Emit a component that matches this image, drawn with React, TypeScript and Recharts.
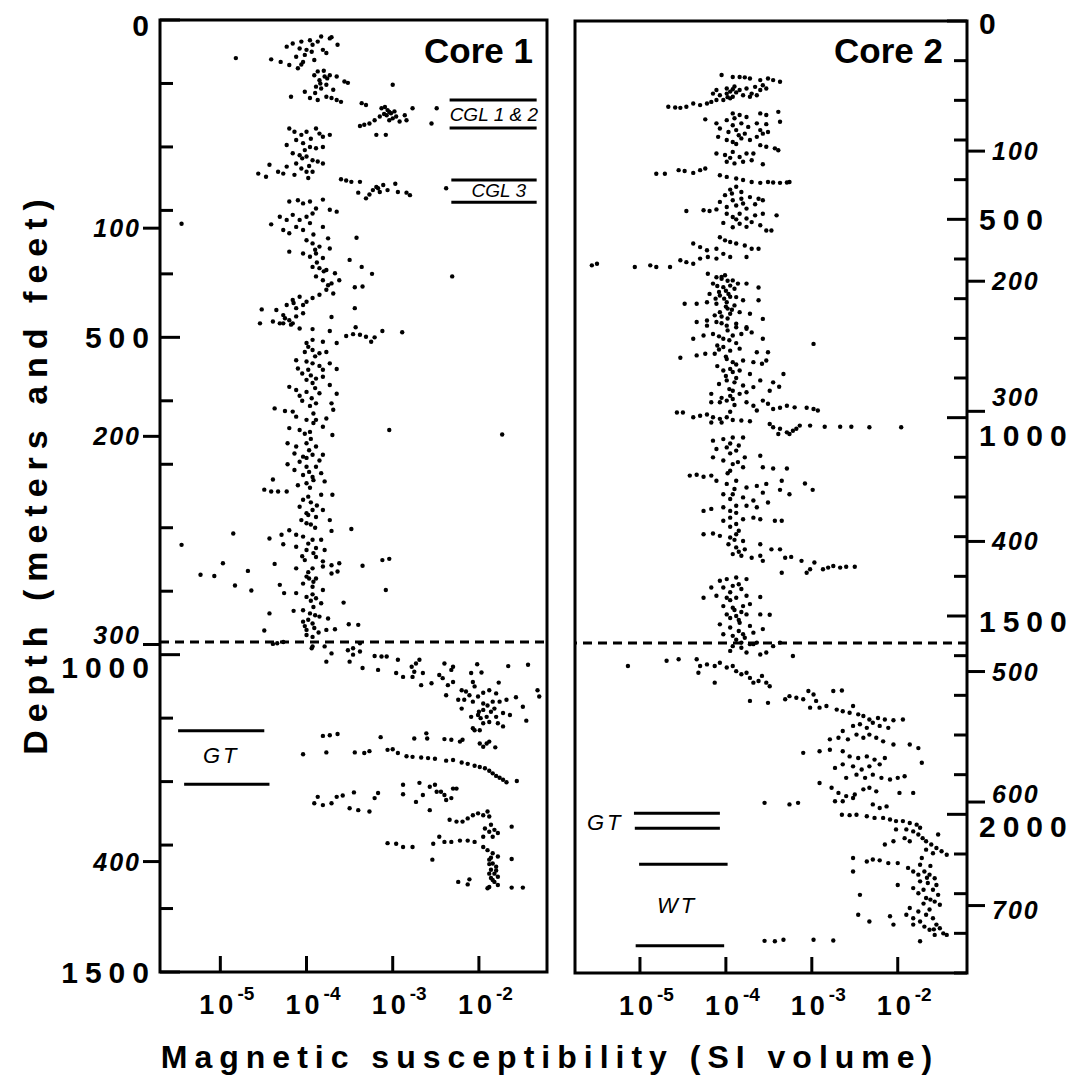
import React from 'react';
import { ScatterChart, Scatter, XAxis, YAxis, ReferenceLine, ReferenceArea } from 'recharts';

// depth (ft), log10 of magnetic susceptibility (SI volume)
const core1Upper: [number, number][] = [
  [60,-4.82],[62,-4.41],[66,-4.30],[42,-4.23],[71,-4.20],[37,-4.16],[58,-4.12],[76,-4.10],[34,-4.06],[66,-4.04],
  [47,-4.00],[32,-3.96],[39,-3.93],[63,-3.91],[34,-3.87],[26,-3.83],[47,-3.81],[52,-3.77],[29,-3.73],[27,-3.71],
  [39,-3.64],[81,-3.87],[87,-3.91],[95,-3.85],[89,-3.79],[87,-3.73],[89,-3.65],[105,-3.89],[108,-3.83],[102,-3.77],
  [110,-3.69],[113,-4.02],[121,-4.18],[123,-3.96],[126,-3.87],[121,-3.77],[123,-3.71],[126,-3.65],[129,-3.60],[97,-3.56],
  [99,-3.52],[102,-3.00],[45,-4.08],[55,-4.02],[50,-3.94],[70,-4.06],[80,-3.80],[100,-3.84],[115,-3.90],[92,-3.76],
  [131,-3.36],[134,-3.31],[167,-3.38],[165,-3.33],[163,-3.27],[158,-3.21],[152,-3.15],[139,-3.13],[137,-3.09],[142,-3.06],
  [147,-3.02],[144,-2.98],[152,-2.96],[150,-3.07],[158,-3.04],[160,-2.92],[150,-2.86],[158,-2.84],[139,-2.77],[181,-3.19],
  [181,-3.08],[163,-2.55],[139,-2.49],[145,-3.04],[148,-3.10],[155,-3.00],
  [171,-4.20],[176,-4.14],[181,-4.06],[176,-4.00],[171,-3.89],[179,-3.85],[184,-3.81],[181,-3.73],[197,-4.23],[189,-4.12],
  [194,-4.04],[200,-3.96],[202,-3.89],[200,-3.81],[210,-4.16],[213,-4.08],[215,-4.00],[221,-3.93],[223,-3.87],[226,-3.81],
  [231,-4.23],[226,-4.12],[234,-4.06],[239,-4.00],[239,-3.93],[239,-4.33],[228,-4.43],[242,-4.56],[247,-4.47],[242,-4.27],
  [244,-4.14],[249,-3.98],[205,-4.02],[218,-4.05],[187,-3.95],[230,-3.97],
  [251,-3.60],[253,-3.54],[255,-3.48],[255,-3.38],[272,-3.40],[281,-3.31],[268,-3.23],[263,-3.19],[271,-3.15],[260,-3.11],
  [268,-3.06],[258,-2.97],[271,-2.94],[272,-2.84],[276,-2.80],[265,-2.38],[265,-3.17],[275,-3.27],
  [286,-4.20],[284,-4.10],[289,-4.04],[286,-3.96],[283,-3.81],[297,-3.89],[299,-3.73],[302,-3.65],[310,-4.31],[315,-4.23],
  [307,-4.16],[315,-4.08],[310,-4.00],[305,-3.93],[322,-4.41],[331,-4.27],[336,-4.20],[326,-4.12],[331,-4.04],[320,-3.96],
  [326,-3.81],[321,-5.45],[343,-3.42],[347,-4.00],[352,-3.93],[357,-3.85],[344,-3.75],[368,-4.04],[373,-3.96],[368,-3.89],
  [375,-3.81],[360,-3.73],[378,-3.50],[365,-4.20],[389,-3.93],[391,-3.85],[394,-3.77],[399,-3.67],[389,-3.36],[400,-3.24],
  [404,-3.89],[410,-3.81],[415,-3.71],[410,-3.62],[421,-3.44],[420,-3.35],[404,-2.31],[425,-3.77],[431,-3.69],[433,-3.85],
  [438,-3.93],[444,-4.00],[436,-4.08],[441,-4.16],[449,-4.23],[454,-4.12],[449,-4.04],[457,-4.35],[456,-4.52],[465,-4.27],
  [473,-4.20],[467,-4.12],[462,-4.04],[468,-3.71],[454,-3.44],[475,-4.39],[478,-4.31],[478,-4.54],[480,-4.18],
  [338,-3.92],[362,-3.90],[382,-3.88],[396,-3.80],[418,-3.75],[446,-4.15],[470,-4.25],
];

const core1Middle: [number, number][] = [
  [478,-4.27],[478,-4.16],[486,-4.08],[487,-3.93],[490,-3.73],[498,-3.54],[495,-3.46],[496,-3.38],[499,-3.31],[507,-3.25],
  [500,-3.21],[490,-3.12],[492,-2.89],[484,-3.43],
  [509,-4.00],[504,-3.93],[507,-3.81],[509,-3.65],[523,-4.02],[520,-3.93],[525,-3.85],[523,-3.77],[536,-4.12],[538,-4.00],
  [541,-3.93],[541,-3.73],[549,-4.10],[551,-3.98],[551,-3.81],[550,-3.65],[567,-4.00],[565,-3.89],[562,-3.81],[572,-3.93],
  [575,-3.73],[578,-4.20],[583,-4.12],[586,-4.00],[588,-3.85],[589,-3.65],[596,-3.94],[604,-3.89],[604,-3.71],[612,-4.37],
  [616,-4.25],[617,-4.16],[625,-4.12],[630,-4.00],[630,-3.89],[628,-3.77],[614,-3.69],[643,-4.20],[646,-4.08],[649,-3.96],
  [641,-3.81],[654,-3.70],[646,-3.04],[653,-1.73],[667,-4.22],[672,-4.12],[667,-4.00],[672,-3.89],[683,-4.14],[688,-4.04],
  [685,-3.93],[685,-3.81],[700,-4.22],[696,-4.08],[704,-4.00],[704,-3.89],[709,-4.14],[717,-4.04],[720,-3.93],[714,-3.83],
  [724,-4.39],[733,-4.10],[730,-4.00],[727,-3.79],[740,-4.49],[743,-4.41],[743,-4.33],[743,-4.23],[756,-4.04],[751,-3.98],
  [748,-3.83],[748,-3.70],[767,-4.08],[772,-3.93],[772,-3.81],[777,-4.00],[788,-4.06],[783,-3.89],[788,-3.73],[805,-3.71],
  [802,-3.48],[793,-4.00],[804,-4.20],[811,-4.12],[814,-4.04],[819,-3.93],[819,-3.83],[809,-4.85],[817,-4.43],[811,-4.29],
  [826,-4.27],[827,-5.45],[830,-4.12],[835,-4.00],[832,-3.89],[835,-3.79],[851,-4.02],[846,-3.89],[853,-3.81],[859,-3.71],
  [856,-3.62],[856,-4.97],[868,-4.68],[857,-4.37],[864,-4.12],[864,-3.93],[861,-3.81],[860,-3.35],[851,-3.12],[849,-3.04],
  [874,-5.23],[876,-5.07],[877,-4.00],[880,-3.89],[872,-3.71],[869,-3.64],[891,-4.83],[899,-4.64],[890,-4.31],[888,-4.04],
  [893,-3.93],[898,-3.81],[898,-3.08],[903,-4.26],[903,-4.12],[909,-4.00],[911,-3.89],[919,-3.83],[918,-3.57],[935,-4.43],
  [931,-4.15],[930,-4.04],[935,-3.96],[940,-3.85],[943,-3.75],[948,-4.04],[951,-3.93],[962,-4.49],[961,-4.00],[958,-3.91],
  [961,-3.77],[960,-3.67],[952,-3.51],[953,-3.40],[969,-4.00],[972,-3.93],[982,-4.34],[980,-4.27],[990,-3.94],[987,-3.79],
  [990,-3.46],[982,-3.38],
  [560,-3.95],[600,-4.05],[620,-3.92],[660,-3.95],[690,-4.00],[712,-3.97],[760,-3.95],[780,-3.98],[800,-3.90],[825,-3.98],
  [845,-4.05],[870,-3.98],[885,-3.92],[915,-3.95],[925,-3.92],[945,-3.98],[955,-4.02],
  [515,-3.98],[530,-3.90],[545,-3.85],[557,-4.05],[580,-3.90],[592,-4.08],[608,-3.96],[635,-3.92],[652,-4.02],[678,-3.97],
  [694,-3.85],[725,-3.92],[737,-3.96],[765,-3.88],[795,-3.95],[840,-3.92],[880,-3.97],[905,-3.93],[938,-3.90],[965,-3.86],
];

const core1Lower: [number, number][] = [
  [983,-4.39],[987,-3.93],[998,-3.71],[1011,-3.77],[993,-3.52],[1000,-3.46],[995,-3.38],[1011,-3.50],[1021,-3.35],[1002,-3.21],
  [1003,-3.13],[1003,-3.07],[1024,-3.17],[1008,-2.94],[1029,-2.96],[1035,-2.88],[1019,-2.78],[1027,-2.75],[1014,-2.73],[1035,-2.77],
  [1008,-2.69],[1029,-2.65],[1048,-2.67],[1045,-2.55],[1032,-2.46],[1014,-2.40],[1024,-2.32],[1019,-2.30],[1037,-2.42],[1048,-2.36],
  [1043,-2.30],[1064,-2.38],[1056,-2.20],[1058,-2.15],[1029,-2.09],[1043,-2.07],[1015,-2.02],[1028,-1.97],[1071,-2.24],[1071,-2.17],
  [1085,-2.20],[1064,-2.11],[1074,-2.07],[1066,-2.01],[1077,-1.95],[1056,-1.88],[1061,-1.80],[1044,-1.77],[1074,-1.84],[1074,-1.76],
  [1071,-1.68],[1067,-1.57],[1082,-1.49],[1018,-1.66],[1016,-1.43],[1056,-1.32],[1066,-1.30],[1098,-2.09],[1095,-2.01],[1087,-1.95],
  [1098,-1.91],[1090,-1.86],[1098,-1.80],[1092,-1.72],[1095,-1.64],[1108,-1.95],[1106,-1.88],[1108,-1.78],[1113,-1.72],[1116,-2.07],
  [1119,-1.99],[1104,-1.45],[1140,-1.99],[1140,-1.91],[1137,-1.88],[1146,-1.81],[1145,-1.95],[1119,-2.05],
  [1080,-1.90],[1085,-1.82],[1100,-1.98],[1060,-1.95],[1050,-2.05],[1090,-2.00],
  [1128,-3.81],[1127,-3.73],[1125,-3.64],[1130,-3.14],[1132,-2.75],[1124,-2.61],[1132,-2.60],[1133,-2.40],[1134,-2.32],[1137,-2.22],
  [1134,-2.19],[1157,-4.04],[1154,-3.77],[1154,-3.44],[1155,-3.33],[1152,-3.27],[1150,-3.06],[1149,-3.00],[1155,-2.94],[1160,-2.84],
  [1161,-2.77],[1162,-2.67],[1163,-2.59],[1164,-2.51],[1167,-2.38],[1166,-2.30],[1170,-2.20],[1172,-2.13],[1175,-2.05],[1177,-1.99],
  [1179,-1.93],[1183,-1.88],[1187,-1.84],[1191,-1.80],[1194,-1.76],[1197,-1.72],[1201,-1.68],[1199,-1.56],
  [1224,-3.87],[1234,-3.91],[1237,-3.81],[1234,-3.71],[1224,-3.65],[1222,-3.58],[1242,-3.50],[1217,-3.45],[1245,-3.40],[1247,-3.27],
  [1226,-3.21],[1218,-3.17],[1205,-2.88],[1220,-2.88],[1232,-2.73],[1202,-2.69],[1221,-2.65],[1245,-2.57],[1208,-2.57],[1205,-2.51],
  [1216,-2.49],[1216,-2.44],[1221,-2.40],[1229,-2.38],[1226,-2.32],[1211,-2.30],[1211,-2.26],
  [1260,-2.34],[1263,-2.26],[1263,-2.19],[1258,-2.13],[1253,-2.07],[1250,-2.01],[1253,-1.95],[1247,-1.90],[1255,-1.88],[1274,-1.93],
  [1279,-1.88],[1276,-1.82],[1281,-1.78],[1268,-1.86],[1271,-1.62],[1287,-1.95],[1287,-1.84],[1297,-3.06],[1298,-2.96],[1303,-2.88],
  [1303,-2.77],[1298,-2.53],[1287,-2.46],[1295,-2.40],[1295,-2.32],[1293,-2.22],[1293,-2.13],[1295,-2.05],[1303,-1.95],[1308,-1.90],
  [1313,-1.84],[1318,-1.78],[1322,-1.62],[1323,-2.54],[1323,-1.88],[1329,-1.84],[1334,-1.80],[1339,-1.86],[1345,-1.82],[1350,-1.78],
  [1352,-1.86],[1358,-1.82],[1366,-1.88],[1363,-1.78],[1358,-2.24],[1354,-2.11],[1362,-2.13],[1367,-1.62],[1367,-1.49],[1368,-1.90],
  [1330,-1.88],[1340,-1.80],[1355,-1.84],[1345,-1.88],[1320,-1.86],
];

const core2Upper: [number, number][] = [
  [136,-4.05],[141,-3.92],[141,-3.84],[142,-3.78],[145,-3.72],[149,-3.60],[145,-3.51],[149,-3.45],[153,-3.37],[162,-3.57],
  [166,-3.66],[170,-3.76],[174,-3.84],[172,-3.92],[170,-3.99],[174,-4.11],[183,-4.15],[187,-4.07],[183,-3.99],[191,-3.92],
  [187,-3.80],[183,-3.70],[174,-3.60],[170,-3.53],[199,-4.11],[199,-4.03],[195,-3.95],[208,-4.22],[212,-4.30],[208,-4.38],
  [216,-4.46],[219,-4.53],[218,-4.59],[216,-4.67],[204,-4.17],[187,-3.64],[191,-3.72],[178,-3.95],[180,-3.88],[192,-3.98],[165,-3.90],
  [233,-3.92],[237,-3.84],[242,-3.76],[233,-3.60],[237,-3.53],[229,-3.39],[254,-3.37],[248,-4.24],[258,-4.11],[250,-3.99],
  [263,-3.92],[258,-3.82],[267,-3.74],[258,-3.64],[260,-3.53],[271,-4.07],[280,-3.97],[275,-3.88],[284,-3.78],[275,-3.60],
  [292,-4.09],[300,-3.99],[305,-3.92],[296,-3.82],[300,-3.72],[292,-3.64],[284,-3.57],[280,-3.51],[313,-3.60],[317,-3.53],
  [321,-3.43],[326,-3.39],[334,-4.11],[338,-4.01],[330,-3.92],[343,-3.84],[334,-3.76],[351,-3.70],[355,-3.99],[359,-3.90],
  [355,-3.80],[361,-3.57],[334,-3.68],[245,-3.90],[288,-3.85],[310,-3.88],[345,-3.95],
  [385,-4.81],[385,-4.71],[376,-4.55],[378,-4.48],[383,-4.38],[376,-4.30],[372,-4.24],
  [389,-4.07],[393,-3.99],[397,-3.88],[401,-3.80],[406,-3.70],[408,-3.60],[406,-3.51],[407,-3.45],[408,-3.37],[407,-3.29],
  [406,-3.26],[418,-3.88],[431,-3.82],[435,-3.93],[439,-4.01],[452,-3.92],[448,-3.82],[444,-3.72],[448,-3.62],[456,-4.07],
  [469,-3.99],[465,-3.88],[473,-3.76],[462,-3.66],[452,-3.57],[479,-4.46],[477,-4.26],[479,-4.19],[475,-4.11],[486,-3.99],
  [494,-3.92],[486,-3.84],[498,-3.76],[490,-3.66],[486,-3.57],[509,-4.03],[511,-3.84],[519,-3.76],[507,-3.70],[515,-3.60],
  [528,-3.53],[490,-3.41],[528,-3.47],[425,-3.95],[460,-3.80],[500,-3.88],[520,-3.92],
  [545,-4.07],[553,-4.01],[557,-3.95],[561,-3.88],[566,-3.78],[574,-3.70],[574,-3.62],[561,-4.38],[570,-4.30],[578,-4.22],
  [574,-4.11],[587,-4.03],[595,-3.95],[599,-4.11],[595,-4.21],[599,-4.30],[612,-4.38],[608,-4.46],[603,-4.53],[620,-4.65],
  [620,-4.81],[616,-4.88],[620,-5.06],[616,-5.56],[612,-5.50],[595,-3.76],
];

const core2Middle: [number, number][] = [
  [637,-4.21],[646,-4.11],[641,-4.01],[654,-3.92],[662,-4.15],[671,-4.03],[667,-3.95],[662,-3.86],[662,-3.76],[672,-3.62],
  [688,-4.19],[692,-4.07],[688,-3.97],[696,-3.88],[713,-4.48],[713,-4.34],[709,-4.22],[713,-4.11],[709,-3.99],[717,-3.90],
  [704,-3.80],[704,-3.62],[734,-4.07],[738,-3.95],[734,-3.84],[738,-3.72],[759,-4.34],[755,-4.22],[759,-4.11],[768,-3.99],
  [763,-3.88],[751,-3.57],[772,-3.76],[650,-4.05],[680,-4.00],[700,-4.02],[725,-3.98],[745,-4.05],
  [768,-4.22],[772,-3.88],[776,-3.76],[785,-3.70],[801,-4.38],[793,-4.26],[789,-4.15],[801,-4.03],[793,-3.92],[789,-3.82],
  [801,-3.57],[814,-2.98],[849,-4.53],[843,-4.34],[839,-4.24],[839,-4.13],[822,-4.03],[831,-3.95],[826,-3.84],[835,-3.64],
  [835,-3.51],[852,-3.99],[860,-3.92],[856,-3.80],[860,-3.68],[864,-3.58],[856,-3.53],[881,-4.03],[877,-3.95],[881,-3.84],
  [890,-3.72],[906,-3.60],[911,-3.45],[890,-3.33],[906,-3.99],[911,-3.90],[919,-3.80],[923,-3.68],[932,-3.49],[922,-3.38],
  [932,-3.92],[940,-3.84],[936,-3.76],[940,-4.17],[961,-4.07],[957,-3.99],[953,-3.92],[961,-3.76],[970,-3.68],[982,-3.64],
  [957,-3.57],[965,-3.51],[978,-3.45],[975,-3.37],[970,-3.29],[974,-3.20],[975,-3.06],[978,-2.98],[982,-2.93],[961,-4.17],
  [987,-4.57],[987,-4.50],[999,-4.38],[995,-4.30],[992,-4.22],[999,-4.15],[1003,-4.07],[999,-3.99],[1006,-3.92],[1007,-3.82],
  [1009,-3.72],[1012,-4.17],[1012,-4.05],
  [645,-4.05],[655,-3.98],[668,-4.10],[675,-3.90],[683,-4.08],[695,-3.95],[700,-4.12],[720,-4.00],[728,-3.93],[742,-4.13],
  [750,-3.98],[762,-4.05],[780,-3.98],[795,-4.08],[805,-3.96],[812,-3.88],[818,-4.10],[828,-4.08],[846,-4.00],[866,-3.88],
  [870,-4.10],[885,-3.92],[895,-4.00],[900,-3.88],[915,-4.08],[928,-3.96],[945,-3.95],[950,-4.05],[968,-3.90],[985,-3.95],
  [1016,-3.49],[1024,-3.45],[1028,-3.37],[1037,-3.29],[1033,-3.22],[1020,-3.14],[1020,-3.02],[1023,-2.85],[1023,-2.67],[1023,-2.54],
  [1024,-2.33],[1024,-1.96],[1041,-3.39],[1041,-3.26],[1028,-3.18],
  [1058,-4.15],[1054,-4.03],[1050,-3.92],[1050,-3.80],[1079,-4.11],[1075,-3.99],[1083,-3.88],[1100,-3.78],[1100,-4.15],[1108,-4.03],
  [1117,-3.92],[1125,-3.80],[1096,-3.60],[1125,-3.57],[1128,-3.45],[1128,-3.29],[1134,-3.95],[1146,-4.42],[1144,-4.34],[1149,-4.26],
  [1146,-4.17],[1159,-4.11],[1167,-3.99],[1159,-3.88],[1176,-3.76],[1172,-3.64],[1167,-3.53],[1159,-3.35],[1182,-3.37],[1193,-3.26],
  [1166,-3.08],[1182,-2.99],[1193,-4.03],[1193,-3.92],[1201,-3.80],[1209,-3.68],[1189,-3.57],[1214,-3.51],[1235,-4.26],[1230,-4.17],
  [1226,-4.03],[1235,-3.95],[1222,-3.88],[1222,-3.76],[1226,-3.64],[1260,-4.03],[1252,-3.95],[1268,-3.88],[1256,-3.80],[1252,-3.68],
  [1256,-3.60],[1260,-3.43],[1260,-3.35],[1294,-4.26],[1292,-4.15],[1298,-4.07],[1302,-3.95],[1294,-3.88],[1311,-3.80],[1319,-3.97],
  [1327,-3.88],[1332,-3.78],[1344,-3.92],[1348,-3.82],[1353,-3.70],[1319,-3.60],[1348,-3.60],[1361,-3.57],[1332,-3.47],[1332,-3.37],
  [1353,-3.31],[1351,-3.24],[1391,-3.35],[1361,-3.12],[1391,-3.06],[1382,-3.02],[1365,-2.97],[1382,-2.87],[1378,-2.81],[1374,-2.75],
  [1378,-2.67],[1376,-2.60],[1376,-2.50],
  [1065,-3.95],[1070,-3.85],[1090,-3.95],[1112,-3.86],[1140,-3.98],[1180,-3.90],[1205,-3.95],[1240,-3.88],[1275,-3.95],[1285,-3.85],
  [1308,-3.90],[1338,-3.85],
  [1411,-4.07],[1407,-3.99],[1403,-3.88],[1407,-3.76],[1428,-4.17],[1428,-4.03],[1424,-3.92],[1432,-3.82],[1454,-4.26],[1449,-4.11],
  [1454,-3.99],[1454,-3.88],[1449,-3.76],[1452,-3.60],[1475,-4.03],[1479,-3.92],[1475,-3.80],[1470,-3.72],[1496,-3.99],[1500,-3.88],
  [1496,-3.76],[1496,-3.60],[1497,-3.49],[1521,-4.07],[1529,-3.95],[1517,-3.84],[1525,-3.72],[1533,-3.57],[1546,-4.03],[1550,-3.92],
  [1546,-3.80],[1542,-3.68],[1576,-3.92],[1567,-3.82],[1571,-3.72],[1567,-3.64],[1576,-3.45],[1440,-3.95],[1485,-3.90],[1510,-3.85],
  [1560,-3.88],[1420,-3.85],[1460,-3.95],[1490,-3.82],[1505,-3.95],[1538,-3.85],[1555,-3.78],
];

const core2Lower: [number, number][] = [
  [1580,-3.82],[1592,-3.76],[1571,-3.68],[1597,-3.60],[1592,-3.53],[1567,-3.37],[1601,-3.22],[1588,-3.95],[1626,-5.14],[1613,-4.69],
  [1609,-4.55],[1609,-4.34],[1626,-4.30],[1643,-4.32],[1622,-4.22],[1626,-4.13],[1618,-4.07],[1630,-3.99],[1626,-3.92],[1639,-3.88],
  [1647,-3.82],[1643,-3.76],[1656,-3.72],[1668,-3.68],[1664,-3.62],[1651,-3.58],[1668,-3.53],[1677,-3.49],[1668,-4.13],
  [1714,-3.72],[1719,-3.51],[1710,-3.31],[1702,-3.26],[1706,-3.18],[1710,-3.10],[1689,-3.04],[1698,-2.98],[1714,-2.95],[1731,-3.02],
  [1731,-2.91],[1689,-2.75],[1688,-2.65],[1727,-2.83],[1736,-2.71],[1740,-2.64],[1727,-2.52],[1744,-2.56],[1748,-2.46],[1752,-2.40],
  [1761,-2.33],[1757,-2.23],[1761,-2.15],[1763,-2.05],[1761,-1.94],[1790,-2.64],[1777,-2.52],[1773,-2.44],[1782,-2.36],[1769,-2.29],
  [1777,-2.21],[1782,-2.11],[1811,-2.79],[1807,-2.69],[1811,-2.58],[1799,-2.48],[1807,-2.40],[1799,-2.33],[1807,-2.25],[1816,-2.17],
  [1824,-2.05],[1824,-1.86],[1833,-1.76],[1845,-3.10],[1841,-2.91],[1837,-2.79],[1841,-2.64],[1854,-2.56],[1858,-2.46],[1854,-2.36],
  [1862,-2.27],[1858,-2.15],[1870,-1.72],[1883,-2.73],[1874,-2.64],[1879,-2.52],[1887,-2.42],[1879,-2.33],[1874,-2.21],[1904,-1.92],
  [1908,-2.60],[1900,-2.48],[1908,-2.38],[1900,-2.29],[1908,-2.19],[1912,-2.09],[1908,-2.00],[1921,-2.91],[1933,-2.77],[1946,-2.69],
  [1954,-2.60],[1950,-2.50],[1937,-2.40],[1933,-2.33],[1942,-2.25],[1946,-1.98],[1946,-1.82],[1967,-2.73],[1967,-2.64],[1959,-2.52],
  [1975,-2.29],[1984,-2.21],[1980,-2.13],[1971,-3.55],[1975,-3.26],[1971,-3.16],
  [2001,-2.65],[2002,-2.56],[2001,-2.48],[2005,-2.36],[2009,-2.27],[2009,-2.17],[2013,-2.09],[2017,-2.02],[2017,-1.94],[2022,-1.86],
  [2026,-1.78],[2034,-1.74],[2038,-2.02],[2038,-1.90],[2043,-1.82],[2051,-1.76],[2060,-1.71],[2068,-1.67],[2076,-1.61],[2085,-1.55],
  [2093,-1.49],[2102,-1.43],[2089,-1.67],[2098,-1.59],[2051,-1.53],[2060,-1.92],[2068,-2.05],[2076,-2.15],[2068,-1.86],
  [2110,-2.52],[2119,-2.36],[2114,-2.29],[2116,-2.21],[2123,-2.11],[2123,-2.00],[2144,-2.52],[2135,-1.88],[2144,-1.82],[2127,-1.74],
  [2144,-1.69],[2152,-1.63],[2161,-1.57],[2178,-1.55],[2152,-1.76],[2169,-1.74],[2173,-1.65],[2190,-1.59],[2203,-1.53],[2186,-1.82],
  [2199,-1.76],[2211,-1.67],[2220,-1.57],[2228,-1.51],[2178,-2.00],[2203,-2.44],[2236,-1.86],[2245,-1.76],[2253,-1.67],[2262,-1.59],
  [2278,-1.55],[2287,-1.51],[2300,-1.47],[2304,-1.43],[2270,-1.74],[2283,-1.69],[2291,-1.63],[2304,-1.57],[2262,-1.82],[2253,-1.90],
  [2278,-1.82],[2320,-1.74],[2253,-2.46],[2270,-2.33],[2257,-2.09],[2278,-2.05],
  [2190,-1.70],[2215,-1.62],[2240,-1.63],[2225,-1.70],[2290,-1.58],[2160,-1.66],[2130,-1.62],[2110,-1.72],
  [2319,-3.55],[2320,-3.43],[2316,-3.33],[2316,-2.98],[2318,-2.75],
];

// axes
const xTicks = [-5, -4, -3, -2];
const feetTicks1 = [0, 100, 200, 300, 400, 500, 600, 700, 800, 900, 1000, 1100, 1200, 1300, 1400, 1500];
const meterLabels1 = [100, 200, 300, 400];
const meterAtFt1 = [328, 656, 984, 1326];
const feetTicks2 = [0, 100, 200, 300, 400, 500, 600, 700, 800, 900, 1000, 1100, 1200, 1300, 1400, 1500,
  1600, 1700, 1800, 1900, 2000, 2100, 2200, 2300, 2400];
const meterLabels2 = [100, 200, 300, 400, 500, 600, 700];
const meterAtFt2 = [328, 656, 984, 1312, 1640, 1969, 2230];

const toPts = (arr: [number, number][]) => arr.map(([d, x]) => ({ d, x }));
const c1 = toPts([...core1Upper, ...core1Middle, ...core1Lower]);
const c2 = toPts([...core2Upper, ...core2Middle, ...core2Lower]);

const FONT = '"Liberation Sans", Arial, Helvetica, sans-serif';
const DOM1: [number, number] = [-5.70, -1.21];
const DOM2: [number, number] = [-5.756, -1.194];

const Dot = (p: any) => <circle cx={p.cx} cy={p.cy} r={2.2} fill="#000" />;

const XTick = (p: any) => {
  const { x, y, payload } = p;
  const e = payload.value;
  return (
    <g>
      <line x1={x} x2={x} y1={y} y2={y - 16} stroke="#000" strokeWidth={3} />
      <text x={x - 21} y={y + 42} fontFamily={FONT} fontWeight="bold" fontSize={27} letterSpacing={4}>
        10
        <tspan dy={-14} fontSize={19} letterSpacing={0}>{e}</tspan>
      </text>
    </g>
  );
};

// label offsets, keyed by tick value (ft)
const leftDy: Record<number, number> = { 0: 5, 984: -10, 1000: 13 };
const rightDy: Record<number, number> = { 0: 2, 984: -14, 1000: 18, 1500: 5, 1969: -8, 2000: 12, 2230: 4 };

const LeftTick = (p: any) => {
  const { x, y, payload } = p;
  const v = payload.value;
  const mi = meterAtFt1.indexOf(v);
  const dy = leftDy[v] || 0;
  if (mi >= 0) {
    return (
      <g>
        <line x1={x} x2={x - 17} y1={y} y2={y} stroke="#000" strokeWidth={3} />
        <text x={x - 19} y={y + dy} dy="0.36em" textAnchor="end" fontFamily={FONT} fontWeight="bold"
          fontStyle="italic" fontSize={25} letterSpacing={2}>{meterLabels1[mi]}</text>
      </g>
    );
  }
  const major = v % 500 === 0;
  return (
    <g>
      <line x1={x} x2={x + (major ? 20 : 13)} y1={y} y2={y} stroke="#000" strokeWidth={3} />
      {major && (
        <text x={x - 4} y={y + dy} dy="0.36em" textAnchor="end" fontFamily={FONT} fontWeight="bold"
          fontSize={30} letterSpacing={7}>{v}</text>
      )}
    </g>
  );
};

const RightTick = (p: any) => {
  const { x, y, payload } = p;
  const v = payload.value;
  const mi = meterAtFt2.indexOf(v);
  const dy = rightDy[v] || 0;
  if (mi >= 0) {
    return (
      <g>
        <line x1={x} x2={x + 18} y1={y} y2={y} stroke="#000" strokeWidth={3} />
        <text x={x + 25} y={y + dy} dy="0.36em" fontFamily={FONT} fontWeight="bold"
          fontStyle="italic" fontSize={25} letterSpacing={2}>{meterLabels2[mi]}</text>
      </g>
    );
  }
  const major = v % 500 === 0;
  return (
    <g>
      <line x1={x} x2={x - (major ? 20 : 13)} y1={y} y2={y} stroke="#000" strokeWidth={3} />
      {major && (
        <text x={x + 12} y={y + dy} dy="0.36em" fontFamily={FONT} fontWeight="bold"
          fontSize={30} letterSpacing={7}>{v}</text>
      )}
    </g>
  );
};

const line = { stroke: '#000', strokeWidth: 3 };

export default function App() {
  return (
    <div style={{ position: 'absolute', left: 0, top: 0, width: 1089, height: 1076, background: '#fff', fontFamily: FONT }}>
      <div style={{ position: 'absolute', left: 0, top: 0 }}>
        <ScatterChart width={560} height={1076} margin={{ top: 20, right: 13, bottom: 44, left: 60 }}>
          <XAxis type="number" dataKey="x" domain={DOM1} ticks={xTicks} interval={0} allowDataOverflow
            height={60} axisLine={false} tickLine={false} tickSize={0} tickMargin={0} tick={XTick} />
          <YAxis type="number" dataKey="d" domain={[0, 1500]} reversed allowDataOverflow width={100}
            ticks={[...feetTicks1, ...meterAtFt1].sort((a, b) => a - b)} interval={0}
            axisLine={false} tickLine={false} tickSize={0} tickMargin={0} tick={LeftTick} />
          <ReferenceLine y={980} stroke="#000" strokeWidth={3} strokeDasharray="9 6" />
          <ReferenceLine segment={[{ x: -2.34, y: 126 }, { x: -1.33, y: 126 }]} {...line} />
          <ReferenceLine segment={[{ x: -2.34, y: 170 }, { x: -1.33, y: 170 }]} {...line} />
          <ReferenceLine segment={[{ x: -2.32, y: 252 }, { x: -1.33, y: 252 }]} {...line} />
          <ReferenceLine segment={[{ x: -2.32, y: 287 }, { x: -1.33, y: 287 }]} {...line} />
          <ReferenceLine segment={[{ x: -5.49, y: 1120 }, { x: -4.49, y: 1120 }]} {...line} />
          <ReferenceLine segment={[{ x: -5.42, y: 1204 }, { x: -4.43, y: 1204 }]} {...line} />
          <Scatter data={c1} shape={Dot} isAnimationActive={false} />
          <ReferenceArea x1={DOM1[0]} x2={DOM1[1]} y1={0} y2={1500} fill="none" stroke="#000" strokeWidth={3} />
        </ScatterChart>
      </div>
      <div style={{ position: 'absolute', left: 560, top: 0 }}>
        <ScatterChart width={529} height={1076} margin={{ top: 21, right: 12, bottom: 43, left: 15 }}>
          <XAxis type="number" dataKey="x" domain={DOM2} ticks={xTicks} interval={0} allowDataOverflow
            height={60} axisLine={false} tickLine={false} tickSize={0} tickMargin={0} tick={XTick} />
          <YAxis type="number" dataKey="d" orientation="right" domain={[0, 2400]} reversed allowDataOverflow width={110}
            ticks={[...feetTicks2, ...meterAtFt2].sort((a, b) => a - b)} interval={0}
            axisLine={false} tickLine={false} tickSize={0} tickMargin={0} tick={RightTick} />
          <ReferenceLine y={1568} stroke="#000" strokeWidth={3} strokeDasharray="9 6" />
          <ReferenceLine segment={[{ x: -5.07, y: 1997 }, { x: -4.07, y: 1997 }]} {...line} />
          <ReferenceLine segment={[{ x: -5.06, y: 2035 }, { x: -4.07, y: 2035 }]} {...line} />
          <ReferenceLine segment={[{ x: -5.01, y: 2126 }, { x: -3.98, y: 2126 }]} {...line} />
          <ReferenceLine segment={[{ x: -5.05, y: 2331 }, { x: -4.02, y: 2331 }]} {...line} />
          <Scatter data={c2} shape={Dot} isAnimationActive={false} />
          <ReferenceArea x1={DOM2[0]} x2={DOM2[1]} y1={0} y2={2400} fill="none" stroke="#000" strokeWidth={3} />
        </ScatterChart>
      </div>
      <svg width={1089} height={1076} style={{ position: 'absolute', left: 0, top: 0, pointerEvents: 'none' }}>
        <text x={533} y={63} textAnchor="end" fontFamily={FONT} fontWeight="bold" fontSize={35}>Core 1</text>
        <text x={943} y={63} textAnchor="end" fontFamily={FONT} fontWeight="bold" fontSize={35}>Core 2</text>
        <text x={538} y={121} textAnchor="end" fontFamily={FONT} fontStyle="italic" fontSize={19}>CGL 1 &amp; 2</text>
        <text x={526} y={197} textAnchor="end" fontFamily={FONT} fontStyle="italic" fontSize={19}>CGL 3</text>
        <text x={203} y={763} fontFamily={FONT} fontStyle="italic" fontSize={22} letterSpacing={3}>GT</text>
        <text x={587} y={830} fontFamily={FONT} fontStyle="italic" fontSize={22} letterSpacing={3}>GT</text>
        <text x={657} y={913} fontFamily={FONT} fontStyle="italic" fontSize={22} letterSpacing={3}>WT</text>
        <text x={550} y={1068} textAnchor="middle" fontFamily={FONT} fontWeight="bold" fontSize={32} letterSpacing={7}>
          Magnetic susceptibility (SI volume)
        </text>
        <text transform="translate(47,473) rotate(-90)" textAnchor="middle" fontFamily={FONT} fontWeight="bold"
          fontSize={34} letterSpacing={8}>Depth (meters and feet)</text>
      </svg>
    </div>
  );
}
